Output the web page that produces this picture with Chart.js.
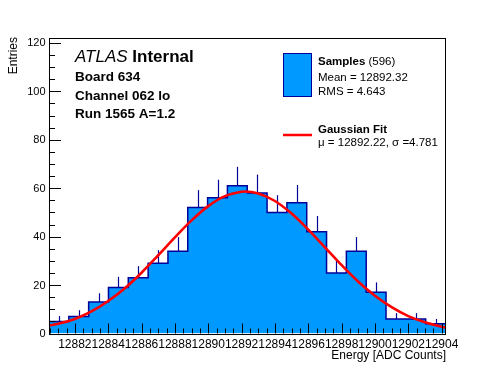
<!DOCTYPE html>
<html>
<head>
<meta charset="utf-8">
<script src="https://cdn.jsdelivr.net/npm/chart.js@4.4.1/dist/chart.umd.min.js"></script>
<style>
  html, body { margin: 0; padding: 0; background: #fff; }
  #wrap { width: 496px; height: 372px; }
</style>
</head>
<body>
<div id="wrap"><canvas id="grafico" width="496" height="372"></canvas></div>
<script>
// histogram range and contents
const xMin = 12880.45, xMax = 12904.23, yMax = 122;
const counts = [5, 7, 13, 19, 23, 29, 34, 52, 56, 61, 58, 50, 54, 42, 25, 34, 17, 6, 6, 4];
const errors = [2.2, 2.6, 3.6, 4.4, 4.8, 5.4, 5.8, 7.2, 7.5, 7.8, 7.6, 7.1, 7.3, 6.5, 5.0, 5.8, 4.1, 2.4, 2.4, 2.0];

// gaussian fit curve
const fitX = [12880.45, 12881, 12882, 12883, 12884, 12885, 12886, 12887, 12888, 12889, 12890, 12891,
  12892, 12892.22, 12893, 12894, 12895, 12896, 12897, 12898, 12899, 12900, 12901, 12902, 12903, 12904, 12904.23];
const fitY = [3.3, 4.0, 6.0, 9.1, 13.4, 18.7, 25.1, 32.3, 39.7, 46.7, 52.6, 56.7,
  58.5, 58.6, 57.8, 54.7, 49.5, 42.9, 35.6, 28.2, 21.4, 15.6, 10.9, 7.2, 4.6, 2.8, 2.5];

// axis tick labels
const xTicks = [12882, 12884, 12886, 12888, 12890, 12892, 12894, 12896, 12898, 12900, 12902, 12904];
const yTicks = [0, 20, 40, 60, 80, 100, 120];

const COR = {
  fill:  '#0099FF',
  linha: '#000099',
  fit:   '#FF0000',
  texto: '#000000',
};
const FONTE = "'Liberation Sans', Arial, Helvetica, sans-serif";

// step outline of the histogram
const binW = (xMax - xMin) / counts.length;
const passos = [];
counts.forEach((c, i) => {
  passos.push({ x: xMin + i * binW, y: c });
  passos.push({ x: xMin + (i + 1) * binW, y: c });
});

const errosPlugin = {
  id: 'erros',
  afterDatasetDraw(chart, args) {
    if (args.index !== 1) return;
    const { ctx, scales: { x, y } } = chart;
    ctx.save();
    ctx.strokeStyle = COR.linha;
    ctx.lineWidth = 1.2;
    counts.forEach((c, i) => {
      const px = Math.round(x.getPixelForValue(xMin + (i + 0.5) * binW)) + 0.5;
      ctx.beginPath();
      ctx.moveTo(px, y.getPixelForValue(c));
      ctx.lineTo(px, y.getPixelForValue(c + errors[i]));
      ctx.stroke();
    });
    ctx.restore();
  }
};

const molduraPlugin = {
  id: 'moldura',
  beforeDraw(chart) {
    const ctx = chart.ctx;
    ctx.save();
    ctx.fillStyle = '#fff';
    ctx.fillRect(0, 0, chart.width, chart.height);
    ctx.restore();
  },
  afterDraw(chart) {
    const { ctx, chartArea: a, scales: { x, y } } = chart;
    ctx.save();
    ctx.strokeStyle = '#000';
    ctx.lineWidth = 1;
    ctx.strokeRect(Math.round(a.left) + 0.5, Math.round(a.top) + 0.5,
      Math.round(a.right - a.left) - 1, Math.round(a.bottom - a.top));

    // ticks inside the frame
    ctx.beginPath();
    for (let v = 0; v <= yMax; v += 5) {
      const py = Math.round(y.getPixelForValue(v)) + 0.5;
      const len = v % 20 === 0 ? 12 : 6;
      ctx.moveTo(a.left, py); ctx.lineTo(a.left + len, py);
    }
    for (let v = 12880.5; v <= xMax; v += 0.5) {
      const px = Math.round(x.getPixelForValue(v)) + 0.5;
      const len = v % 2 === 0 ? 10 : 5;
      ctx.moveTo(px, a.bottom); ctx.lineTo(px, a.bottom - len);
    }
    ctx.stroke();

    ctx.fillStyle = COR.texto;
    ctx.font = `12px ${FONTE}`;
    ctx.textAlign = 'center';
    ctx.textBaseline = 'alphabetic';
    xTicks.forEach(v => ctx.fillText(String(v), x.getPixelForValue(v), 347.5));
    ctx.font = `11px ${FONTE}`;
    ctx.textAlign = 'right';
    ctx.textBaseline = 'middle';
    yTicks.forEach(v => ctx.fillText(String(v), 45.5, y.getPixelForValue(v) + 0.5));

    // axis titles
    ctx.font = `12px ${FONTE}`;
    ctx.textBaseline = 'alphabetic';
    ctx.fillText('Energy [ADC Counts]', 446, 359);
    ctx.save();
    ctx.translate(17, 37);
    ctx.rotate(-Math.PI / 2);
    ctx.textAlign = 'right';
    ctx.fillText('Entries', 0, 0);
    ctx.restore();

    // ATLAS label
    ctx.textAlign = 'left';
    ctx.font = `italic 17px ${FONTE}`;
    ctx.fillText('ATLAS', 75, 62);
    const w = ctx.measureText('ATLAS ').width;
    ctx.font = `bold 17px ${FONTE}`;
    ctx.fillText('Internal', 75 + w, 62);
    ctx.font = `bold 13.5px ${FONTE}`;
    ctx.fillText('Board 634', 75, 81);
    ctx.fillText('Channel 062 lo', 75, 99.5);
    ctx.fillText('Run 1565 A=1.2', 75, 118);

    // legend
    ctx.fillStyle = COR.fill;
    ctx.fillRect(283.5, 53.5, 28, 43);
    ctx.strokeStyle = COR.linha;
    ctx.strokeRect(283.5, 53.5, 28, 43);
    ctx.strokeStyle = COR.fit;
    ctx.lineWidth = 2.5;
    ctx.beginPath();
    ctx.moveTo(283, 135); ctx.lineTo(312, 135);
    ctx.stroke();

    ctx.fillStyle = COR.texto;
    ctx.font = `bold 11.5px ${FONTE}`;
    ctx.fillText('Samples', 318, 64.5);
    const ws = ctx.measureText('Samples').width;
    ctx.font = `11.5px ${FONTE}`;
    ctx.fillText(' (596)', 318 + ws, 64.5);
    ctx.fillText('Mean = 12892.32', 318, 80.5);
    ctx.fillText('RMS = 4.643', 318, 94.5);
    ctx.font = `bold 11.5px ${FONTE}`;
    ctx.fillText('Gaussian Fit', 318, 133);
    ctx.font = `11.5px ${FONTE}`;
    ctx.fillText('\u03bc = 12892.22, \u03c3 =4.781', 318, 146);
    ctx.restore();
  }
};

new Chart(document.getElementById('grafico'), {
  type: 'line',
  data: {
    datasets: [
      {
        data: fitX.map((v, i) => ({ x: v, y: fitY[i] })),
        borderColor: COR.fit,
        borderWidth: 2.6,
        pointRadius: 0,
        cubicInterpolationMode: 'monotone',
        fill: false,
        order: 0,
      },
      {
        data: passos,
        borderColor: COR.linha,
        borderWidth: 1.5,
        backgroundColor: COR.fill,
        pointRadius: 0,
        tension: 0,
        fill: 'origin',
        order: 1,
      },
    ],
  },
  options: {
    responsive: false,
    animation: false,
    events: [],
    layout: { padding: { left: 49, right: 50.5, top: 38, bottom: 38.5 } },
    plugins: { legend: { display: false }, tooltip: { enabled: false } },
    scales: {
      x: { type: 'linear', min: xMin, max: xMax, display: false },
      y: { type: 'linear', min: 0, max: yMax, display: false },
    },
  },
  plugins: [errosPlugin, molduraPlugin],
});
</script>
</body>
</html>
